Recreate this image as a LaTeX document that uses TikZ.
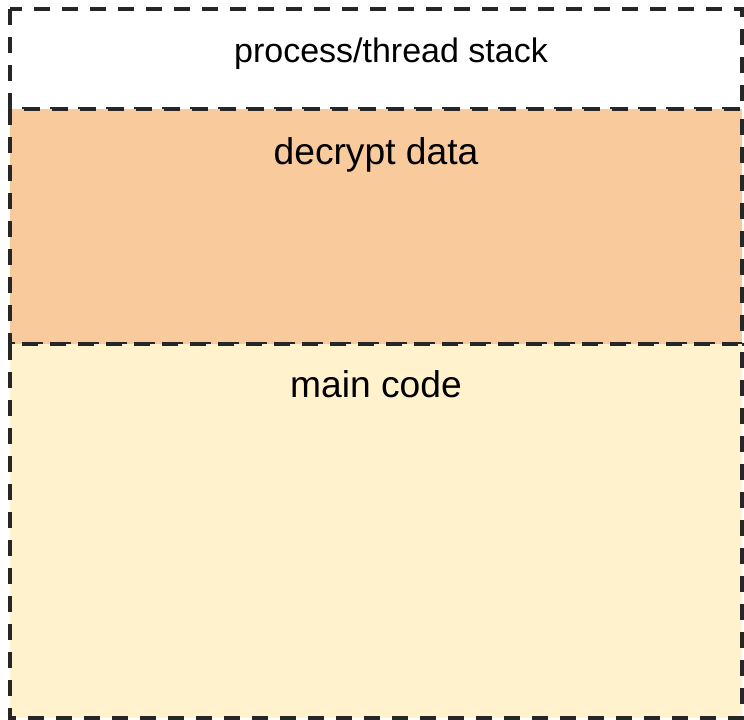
\documentclass[tikz,border=0pt]{standalone}
\usepackage{fontspec}
\setmainfont{Liberation Sans}
\definecolor{decryptfill}{HTML}{F9CB9C}
\definecolor{codefill}{HTML}{FFF2CC}
\tikzset{
  region/.style={draw=black!85, line width=1.7pt, dash pattern=on 8pt off 6pt},
  lbl/.style={anchor=base, inner sep=0pt, font=\fontsize{18.6}{22}\selectfont}
}
\begin{document}
\begin{tikzpicture}[x=0.5pt,y=-0.5pt]
    \useasboundingbox (0,0) rectangle (744,719);
    % memory layout, top to bottom
    \draw[region] (10,9) rectangle (742,109);
    \draw[region, fill=decryptfill] (10,109) rectangle (742,344);
    \draw[region, fill=codefill] (10,344) rectangle (742,718);
    \node[lbl, font=\fontsize{17}{20}\selectfont] (stack) at (391,62) {process/thread stack};
    \node[lbl] (decrypt) at (376,164) {decrypt data};
    \node[lbl] (maincode) at (376,397) {main code};
\end{tikzpicture}
\end{document}
